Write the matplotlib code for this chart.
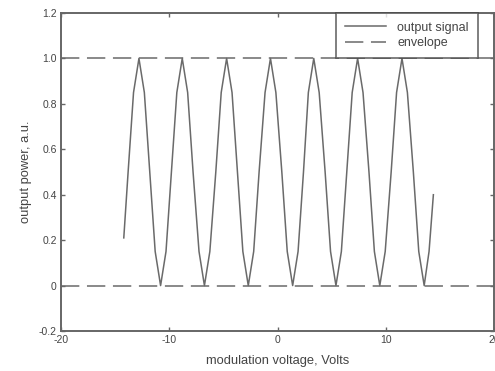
import matplotlib
matplotlib.use("Agg")
import matplotlib.pyplot as plt

# values (modulation voltage, output power)
volts = [-14.2, -13.8, -13.3, -12.8, -12.3, -11.8, -11.3, -10.8,
         -10.3, -9.8, -9.3, -8.8, -8.3, -7.8, -7.25, -6.75,
         -6.25, -5.7, -5.2, -4.7, -4.2, -3.7, -3.2, -2.7,
         -2.2, -1.7, -1.15, -0.65, -0.15, 0.4, 0.9, 1.4,
         1.9, 2.4, 2.85, 3.35, 3.85, 4.4, 4.9, 5.4,
         5.9, 6.4, 6.9, 7.4, 7.9, 8.45, 8.95, 9.45,
         9.95, 10.5, 11.0, 11.5, 12.0, 12.55, 13.05, 13.55,
         14.0, 14.4]
power = [0.21, 0.5, 0.85, 1.0, 0.85, 0.5, 0.15, 0.0,
         0.15, 0.5, 0.85, 1.0, 0.85, 0.5, 0.15, 0.0,
         0.15, 0.5, 0.85, 1.0, 0.85, 0.5, 0.15, 0.0,
         0.15, 0.5, 0.85, 1.0, 0.85, 0.5, 0.15, 0.0,
         0.15, 0.5, 0.85, 1.0, 0.85, 0.5, 0.15, 0.0,
         0.15, 0.5, 0.85, 1.0, 0.85, 0.5, 0.15, 0.0,
         0.15, 0.5, 0.85, 1.0, 0.85, 0.5, 0.15, 0.0,
         0.15, 0.40]
env_x = [-20, 20]
env_top = [1.0, 1.0]
env_bottom = [0.0, 0.0]

xticks = [-20, -10, 0, 10, 20]
yticks = [-0.2, 0, 0.2, 0.4, 0.6, 0.8, 1.0, 1.2]
ytick_labels = ["-0.2", "0", "0.2", "0.4", "0.6", "0.8", "1.0", "1.2"]

plt.rcParams["font.family"] = ["Liberation Sans", "DejaVu Sans"]
plt.rcParams["axes.unicode_minus"] = False
txt = "#444444"
line_c = "#6a6a6a"

fig = plt.figure(figsize=(4.95, 3.71), dpi=100)
ax = fig.add_axes([61 / 495, 40 / 371, 433 / 495, 318 / 371])

ax.plot(volts, power, color=line_c, lw=1.1, label="output signal")
ax.plot(env_x, env_top, color=line_c, lw=1.1, dashes=(12, 5), label="envelope")
ax.plot(env_x, env_bottom, color=line_c, lw=1.1, dashes=(12, 5))

ax.set_xlim(-20, 20)
ax.set_ylim(-0.2, 1.2)
ax.set_xticks(xticks)
ax.set_yticks(yticks)
ax.set_yticklabels(ytick_labels)
ax.tick_params(direction="in", top=True, right=True, length=3, width=1,
               colors="#666666", labelcolor=txt, labelsize=7.5, pad=3)

for s in ax.spines.values():
    s.set_color("#666666")
    s.set_linewidth(1.4)

ax.set_xlabel("modulation voltage, Volts", fontsize=9.3, color=txt, labelpad=7)
ax.set_ylabel("output power, a.u.", fontsize=9.3, color=txt, labelpad=5)

leg = ax.legend(loc="upper right", bbox_to_anchor=(0.962, 1.0), fontsize=9,
                frameon=True, fancybox=False, borderaxespad=0, handlelength=3.3,
                handletextpad=0.9, borderpad=0.7, labelspacing=0.25)
leg.get_frame().set_edgecolor("#444444")
leg.get_frame().set_linewidth(1.2)
for t in leg.get_texts():
    t.set_color(txt)

fig.savefig("out.png", dpi=100)
